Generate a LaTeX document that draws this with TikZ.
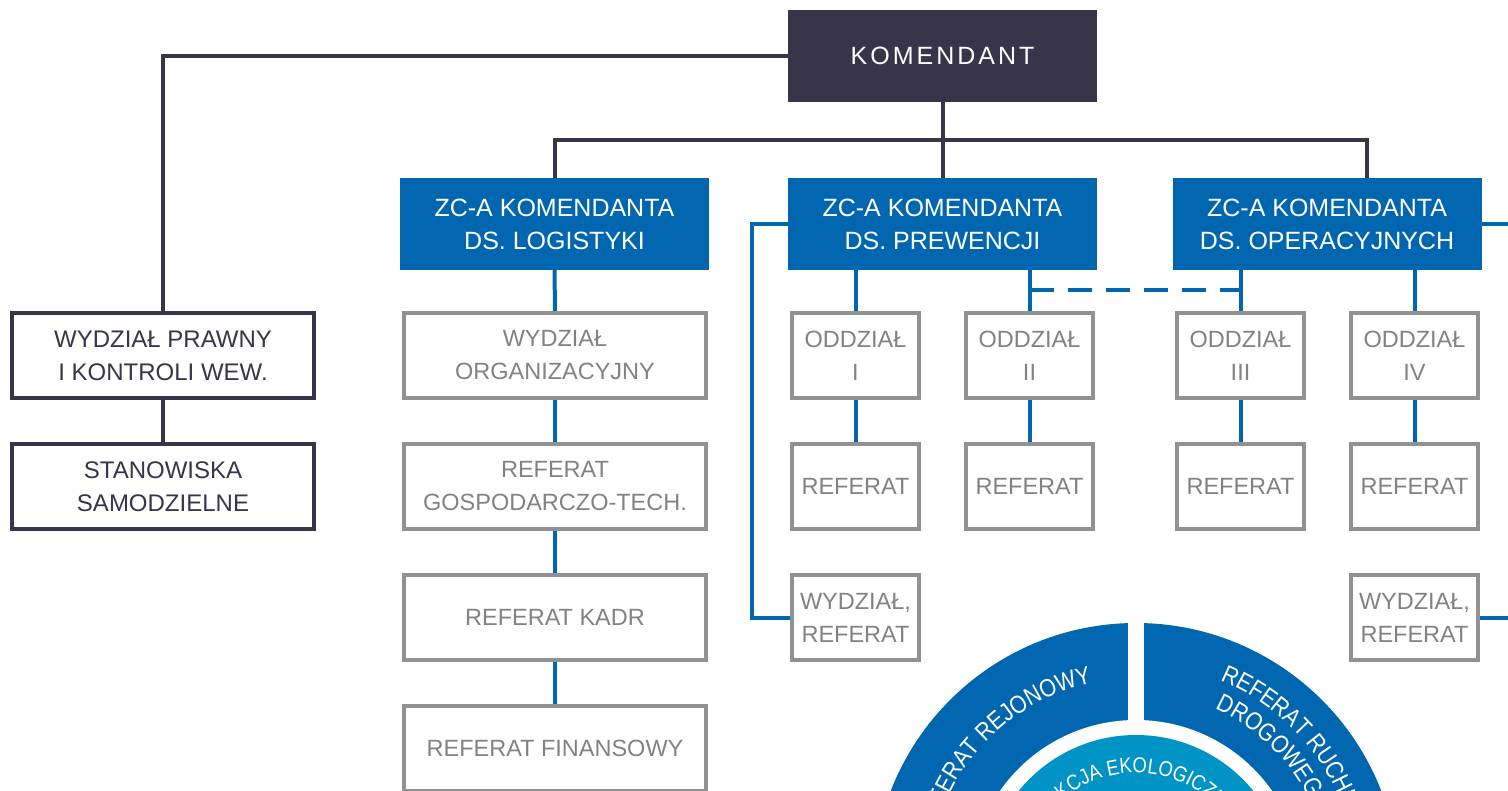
\documentclass[tikz,border=0pt]{standalone}
\usepackage{fontspec}
\setmainfont{Liberation Sans}
\newfontfamily\ringfont[FakeStretch=0.86]{Liberation Sans}
\usetikzlibrary{decorations.text}
\definecolor{navy}{RGB}{56,53,75}
\definecolor{policeblue}{RGB}{0,102,176}
\definecolor{boxgray}{RGB}{145,145,145}
\definecolor{textgray}{RGB}{130,130,130}
\definecolor{lightblue}{RGB}{0,147,198}
\begin{document}
\begin{tikzpicture}[x=1pt,y=-1pt,line join=miter,
  every node/.style={font=\fontsize{25}{33}\selectfont,align=center,inner sep=0pt},
  headbox/.style={fill=navy,text=white,minimum width=309pt,minimum height=92pt},
  deputybox/.style={fill=policeblue,text=white,minimum width=309pt,minimum height=92pt},
  legalbox/.style={draw=navy,line width=4pt,text=navy,minimum width=302pt,minimum height=85pt,
    font=\fontsize{24}{33}\selectfont},
  unitbox/.style={draw=boxgray,line width=4pt,text=textgray,minimum width=302pt,minimum height=85pt,
    font=\fontsize{23.5}{33}\selectfont},
  cellbox/.style={unitbox,minimum width=127pt},
  navyline/.style={draw=navy,line width=4pt},
  blueline/.style={draw=policeblue,line width=4pt},
  arctext/.style={decorate,decoration={text along path,text align=center,text color=white}},
]
\fill[white] (0,0) rectangle (1508,791);
\useasboundingbox (0,0) rectangle (1508,791);
\clip (0,0) rectangle (1508,791);
%%
  % Node: Komendant
  \node[headbox] (kom) at (942.5,56) {\addfontfeature{LetterSpace=12}KOMENDANT};
  % Node: Wydzial prawny, Stanowiska
  \node[legalbox] (prawny) at (163,355.5) {WYDZIAŁ PRAWNY\\I KONTROLI WEW.};
  \node[legalbox] (stan) at (163,486.5) {STANOWISKA\\SAMODZIELNE};
  % Node: Zastepcy
  \node[deputybox] (log) at (554.5,224) {ZC-A KOMENDANTA\\DS. LOGISTYKI};
  \node[deputybox] (prew) at (942.5,224) {ZC-A KOMENDANTA\\DS. PREWENCJI};
  \node[deputybox] (oper) at (1327,224) {ZC-A KOMENDANTA\\DS. OPERACYJNYCH};
  % Node: Logistyka
  \node[unitbox] (org) at (555,355.5) {WYDZIAŁ\\ORGANIZACYJNY};
  \node[unitbox] (gosp) at (555,486.5) {REFERAT\\GOSPODARCZO-TECH.};
  \node[unitbox] (kadr) at (555,617.5) {REFERAT KADR};
  \node[unitbox] (fin) at (555,748.5) {REFERAT FINANSOWY};
  % Node: Oddzialy
  \node[cellbox] (o1) at (855.5,355.5) {ODDZIAŁ\\I};
  \node[cellbox] (o2) at (1029.5,355.5) {ODDZIAŁ\\II};
  \node[cellbox] (o3) at (1240.5,355.5) {ODDZIAŁ\\III};
  \node[cellbox] (o4) at (1414.5,355.5) {ODDZIAŁ\\IV};
  % Node: Referaty
  \node[cellbox] (r1) at (855.5,486.5) {REFERAT};
  \node[cellbox] (r2) at (1029.5,486.5) {REFERAT};
  \node[cellbox] (r3) at (1240.5,486.5) {REFERAT};
  \node[cellbox] (r4) at (1414.5,486.5) {REFERAT};
  \node[cellbox] (w1) at (855.5,617.5) {WYDZIAŁ,\\REFERAT};
  \node[cellbox] (w2) at (1414.5,617.5) {WYDZIAŁ,\\REFERAT};
  \coordinate (bus) at (942.5,140);
  \coordinate (dashy) at (0,290);
  \coordinate (operout) at (1508,224);
  \coordinate (w2out) at (1508,617.5);
  % Edge: Komendant -> Wydzial prawny -> Stanowiska
  \draw[navyline] (kom.west) -| (prawny.north);
  \draw[navyline] (prawny.south) -- (stan.north);
  % Edge: Komendant -> Zastepcy
  \draw[navyline] (kom.south) -- (prew.north);
  \draw[navyline] (log.north) |- (bus) -| ([xshift=40pt]oper.north);
  % Edge: Logistyka
  \draw[blueline] (log.south) -- (org.north);
  \draw[blueline] (org.south) -- (gosp.north);
  \draw[blueline] (gosp.south) -- (kadr.north);
  \draw[blueline] (kadr.south) -- (fin.north);
  % Edge: Prewencja -> Oddzialy
  \draw[blueline] (prew.south -| o1.north) -- (o1.north);
  \draw[blueline] (prew.south -| o2.north) -- (o2.north);
  \draw[blueline] (oper.south -| o3.north) -- (o3.north);
  \draw[blueline] (oper.south -| o4.north) -- (o4.north);
  \draw[blueline,dash pattern=on 24pt off 14pt] (o2.north |- dashy) -- (o3.north |- dashy);
  % Edge: Oddzialy -> Referaty
  \draw[blueline] (o1.south) -- (r1.north);
  \draw[blueline] (o2.south) -- (r2.north);
  \draw[blueline] (o3.south) -- (r3.north);
  \draw[blueline] (o4.south) -- (r4.north);
  \draw[blueline] (prew.west) -- ++(-36,0) |- (w1.west);
  \draw[blueline] (oper.east) -- (operout);
  \draw[blueline] (w2.east) -- (w2out);
  % Node: Kolo referatow
  \coordinate (hub) at (1136,886);
  \fill[policeblue] (hub) circle[radius=263pt];
  \fill[white] (hub) circle[radius=166pt];
  \fill[lightblue] (hub) circle[radius=151pt];
  \fill[white] (1128,600) rectangle (1144,724);
  \path[arctext,decoration={text={|\ringfont\fontsize{25}{25}\selectfont|REFERAT REJONOWY}}]
    ([shift={(178:208pt)}]hub) arc[start angle=178,end angle=90,radius=208pt];
  \path[arctext,decoration={text={|\ringfont\fontsize{25}{25}\selectfont|REFERAT RUCHU}}]
    ([shift={(88:222pt)}]hub) arc[start angle=88,end angle=0,radius=222pt];
  \path[arctext,decoration={text={|\ringfont\fontsize{25}{25}\selectfont|DROGOWEGO}}]
    ([shift={(88:194pt)}]hub) arc[start angle=88,end angle=0,radius=194pt];
  \path[arctext,decoration={text={|\ringfont\fontsize{21.5}{21.5}\selectfont|SEKCJA EKOLOGICZNA}}]
    ([shift={(180:113pt)}]hub) arc[start angle=180,end angle=0,radius=113pt];
%
\end{tikzpicture}
\end{document}
